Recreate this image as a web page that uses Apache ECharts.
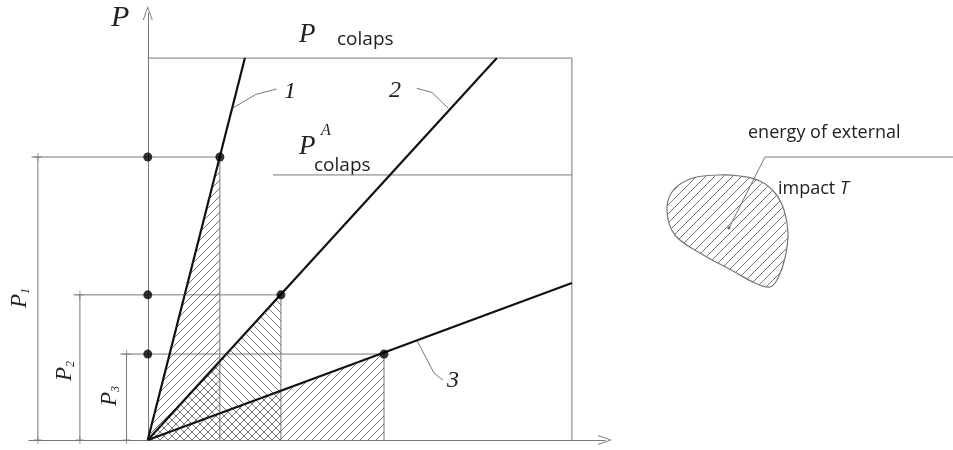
<!DOCTYPE html>
<html>
<head>
<meta charset="utf-8">
<script src="https://cdn.jsdelivr.net/npm/echarts@6/dist/echarts.min.js"></script>
<style>
  html, body { margin: 0; padding: 0; background: #fff; }
  #chart { width: 953px; height: 450px; }
</style>
</head>
<body>
<div id="chart"></div>
<script>
// loading points (lambda, P), box top P colaps = 10
const lambdaPts = [1.70, 3.14, 5.57];
const loadPts = [7.41, 3.80, 2.25];
const lineEnds = [[2.29, 10], [8.23, 10], [10, 4.11]];
const pColaps = 10;
const pColapsA = 6.94;
const pColapsAStart = 2.95;
const dimX = [-2.59, -1.60, -0.50];   // dimension lines for P1, P2, P3
const leaders = [
  [[2.00, 8.69], [2.55, 9.05], [3.04, 9.19]],
  [[6.34, 9.21], [6.70, 9.10], [7.08, 8.69]],
  [[6.34, 2.62], [6.75, 1.75], [6.96, 1.57]]
];
// energy blob (right part, own grid)
const blobX = [77, 100, 120, 135, 144, 148, 145, 138, 130, 115, 93, 60, 35, 27, 32, 50];
const blobY = [75, 76, 81, 93, 110, 133, 158, 178, 187, 183, 171, 153, 135, 112, 92, 79];
const blobLeader = [[89, 128], [125, 57], [313, 57]];

const GRAY = '#777';

function hatch(dir, s) {
  const c = document.createElement('canvas');
  c.width = c.height = s;
  const g = c.getContext('2d');
  g.strokeStyle = GRAY;
  g.lineWidth = 1;
  g.beginPath();
  if (dir > 0) {
    g.moveTo(0, s); g.lineTo(s, 0);
    g.moveTo(-1, 1); g.lineTo(1, -1);
    g.moveTo(s - 1, s + 1); g.lineTo(s + 1, s - 1);
  } else {
    g.moveTo(0, 0); g.lineTo(s, s);
    g.moveTo(s - 1, -1); g.lineTo(s + 1, 1);
    g.moveTo(-1, s - 1); g.lineTo(1, s + 1);
  }
  g.stroke();
  return { image: c, repeat: 'repeat' };
}
const patterns = [hatch(1, 8), hatch(-1, 8), hatch(1, 8)];
const blobPattern = hatch(1, 9);

const arrowPath = 'path://M5 0 L10 14 L9 14 L5 2.5 L1 14 L0 14 Z';

// thin gray lines
const thin = [];
thin.push({ coords: [[0, pColaps], [10, pColaps], [10, 0]] });
thin.push({ coords: [[pColapsAStart, pColapsA], [10, pColapsA]] });
for (let i = 0; i < 3; i++) {
  thin.push({ coords: [[dimX[i] - 0.15, loadPts[i]], [lambdaPts[i], loadPts[i]]] });
  thin.push({ coords: [[lambdaPts[i], loadPts[i]], [lambdaPts[i], 0]] });
  thin.push({ coords: [[dimX[i], loadPts[i]], [dimX[i], 0]] });
}
leaders.forEach(l => thin.push({ coords: l }));

const dots = [];
const ticks = [];
for (let i = 0; i < 3; i++) {
  dots.push([0, loadPts[i]], [lambdaPts[i], loadPts[i]]);
  ticks.push([dimX[i], loadPts[i]], [dimX[i], 0]);
}

const chart = echarts.init(document.getElementById('chart'));

const serif = 'italic 27px "Liberation Serif"';
const sans = '"Open Sans"';

const option = {
  animation: false,
  grid: [
    { left: 29, right: 348, top: 13, bottom: 10 },
    { left: 640, top: 100, width: 313, height: 200 }
  ],
  xAxis: [
    {
      type: 'value', min: -2.8, max: 10.78, gridIndex: 0,
      axisLine: { show: true, onZero: true, symbol: ['none', arrowPath], symbolSize: [10, 14], lineStyle: { color: GRAY, width: 1 } },
      axisTick: { show: false }, axisLabel: { show: false }, splitLine: { show: false }
    },
    { type: 'value', min: 0, max: 313, gridIndex: 1, show: false }
  ],
  yAxis: [
    {
      type: 'value', min: 0, max: 11.18, gridIndex: 0,
      axisLine: { show: true, onZero: true, symbol: ['none', arrowPath], symbolSize: [10, 14], lineStyle: { color: GRAY, width: 1 } },
      axisTick: { show: false }, axisLabel: { show: false }, splitLine: { show: false }
    },
    { type: 'value', min: 0, max: 200, inverse: true, gridIndex: 1, show: false }
  ],
  series: [
    {
      type: 'custom',
      name: 'hatch',
      xAxisIndex: 0, yAxisIndex: 0,
      data: lambdaPts.map((l, i) => [l, loadPts[i], i]),
      renderItem: function (params, api) {
        const l = api.value(0), p = api.value(1), k = api.value(2);
        return {
          type: 'polygon',
          shape: { points: [api.coord([0, 0]), api.coord([l, p]), api.coord([l, 0])] },
          style: { fill: patterns[k], stroke: null }
        };
      },
      z: 1
    },
    {
      type: 'lines',
      coordinateSystem: 'cartesian2d',
      xAxisIndex: 0, yAxisIndex: 0,
      polyline: true,
      lineStyle: { color: GRAY, width: 1, opacity: 1 },
      data: thin,
      z: 2
    },
    ...lineEnds.map(e => ({
      type: 'line',
      xAxisIndex: 0, yAxisIndex: 0,
      data: [[0, 0], e],
      symbol: 'none',
      lineStyle: { color: '#111', width: 2.2 },
      z: 3
    })),
    {
      type: 'scatter',
      xAxisIndex: 0, yAxisIndex: 0,
      data: dots,
      symbolSize: 9,
      itemStyle: { color: '#000' },
      z: 4
    },
    {
      type: 'scatter',
      xAxisIndex: 0, yAxisIndex: 0,
      data: ticks,
      symbol: 'path://M4 0 L5 0 L5 4 L9 4 L9 5 L5 5 L5 9 L4 9 L4 5 L0 5 L0 4 L4 4 Z',
      symbolSize: 8,
      itemStyle: { color: GRAY },
      z: 4
    },
    {
      type: 'custom',
      name: 'blob',
      xAxisIndex: 1, yAxisIndex: 1,
      data: [[0, 0]],
      renderItem: function (params, api) {
        const pts = blobX.map((x, i) => api.coord([x, blobY[i]]));
        return {
          type: 'polygon',
          shape: { points: pts, smooth: 0.4 },
          style: { fill: blobPattern, stroke: GRAY, lineWidth: 1.2 }
        };
      },
      z: 1
    },
    {
      type: 'lines',
      coordinateSystem: 'cartesian2d',
      xAxisIndex: 1, yAxisIndex: 1,
      polyline: true,
      lineStyle: { color: GRAY, width: 1, opacity: 1 },
      data: [{ coords: blobLeader }],
      z: 2
    },
    {
      type: 'scatter',
      xAxisIndex: 1, yAxisIndex: 1,
      data: [blobLeader[0]],
      symbolSize: 3,
      itemStyle: { color: '#444' },
      z: 3
    }
  ],
  graphic: [
    { type: 'text', x: 111, y: 18, style: { text: 'P', font: 'italic 30px "Liberation Serif"', fill: '#222', verticalAlign: 'middle' } },
    { type: 'text', x: 299, y: 35, style: { text: 'P', font: serif, fill: '#222', verticalAlign: 'middle' } },
    { type: 'text', x: 337, y: 40, style: { text: 'colaps', font: '19px ' + sans, fill: '#222', verticalAlign: 'middle' } },
    { type: 'text', x: 284, y: 92, style: { text: '1', font: 'italic 24px "Liberation Serif"', fill: '#222', verticalAlign: 'middle' } },
    { type: 'text', x: 389, y: 91, style: { text: '2', font: 'italic 24px "Liberation Serif"', fill: '#222', verticalAlign: 'middle' } },
    { type: 'text', x: 447, y: 381, style: { text: '3', font: 'italic 24px "Liberation Serif"', fill: '#222', verticalAlign: 'middle' } },
    { type: 'text', x: 299, y: 147, style: { text: 'P', font: serif, fill: '#222', verticalAlign: 'middle' } },
    { type: 'text', x: 321, y: 131, style: { text: 'A', font: 'italic 16px "Liberation Serif"', fill: '#222', verticalAlign: 'middle' } },
    { type: 'text', x: 314, y: 166, style: { text: 'colaps', font: '19px ' + sans, fill: '#222', verticalAlign: 'middle' } },
    ...[['1', 20, 298], ['2', 65, 371], ['3', 110, 396]].map(([s, x, y]) => ({
      type: 'text', x: x, y: y, rotation: Math.PI / 2,
      style: {
        text: '{p|P}{s|' + s + '}', align: 'center', verticalAlign: 'middle',
        rich: {
          p: { font: 'italic 23px "Liberation Serif"', fill: '#222' },
          s: { font: 'italic 12px "Liberation Serif"', fill: '#222', verticalAlign: 'bottom', padding: [8, 0, 0, 0] }
        }
      }
    })),
    { type: 'text', x: 748, y: 133, style: { text: 'energy of external', font: '18px ' + sans, fill: '#222', verticalAlign: 'middle' } },
    {
      type: 'text', x: 778, y: 189,
      style: {
        text: '{a|impact }{b|T}', verticalAlign: 'middle',
        rich: {
          a: { font: '18px ' + sans, fill: '#222' },
          b: { font: 'italic 18px ' + sans, fill: '#222' }
        }
      }
    }
  ]
};

chart.setOption(option);
</script>
</body>
</html>
